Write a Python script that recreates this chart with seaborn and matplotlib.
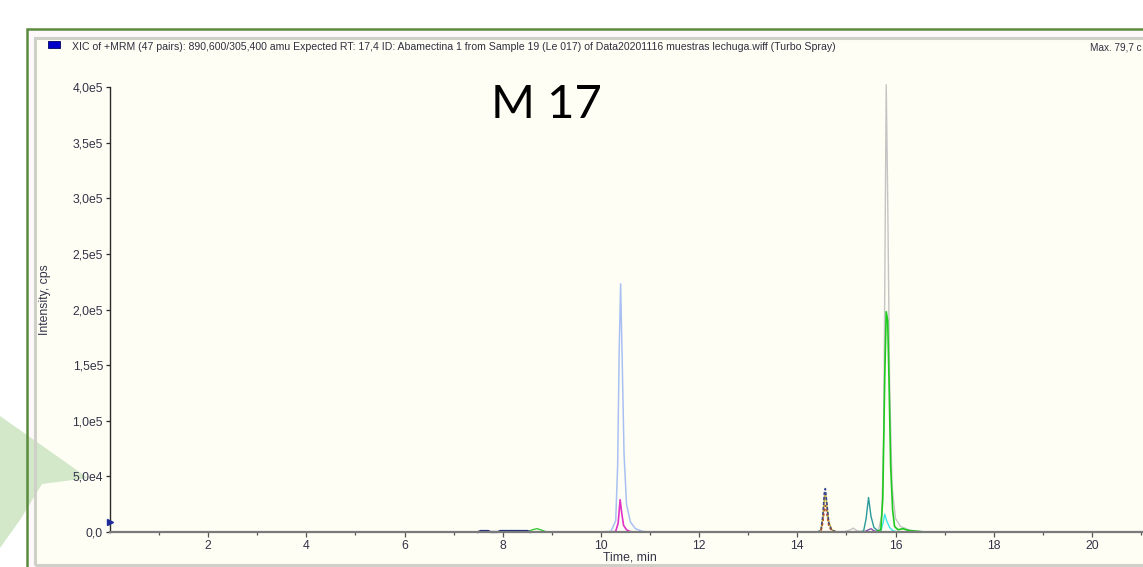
import numpy as np
import pandas as pd
import seaborn as sns
import matplotlib
matplotlib.use("Agg")
import matplotlib.pyplot as plt
from matplotlib.patches import Rectangle, Polygon

# ---------------- data ----------------
t_blue = [9.9, 10.2, 10.3, 10.34, 10.37, 10.40, 10.43, 10.47, 10.52, 10.60, 10.70, 10.85, 11.0]
i_blue = [0, 500, 1.0e4, 6.0e4, 1.6e5, 2.23e5, 1.6e5, 7.0e4, 2.5e4, 9e3, 3e3, 500, 0]

t_magenta = [10.2, 10.3, 10.35, 10.39, 10.42, 10.46, 10.52, 10.60, 10.70]
i_magenta = [0, 500, 8e3, 2.9e4, 1.8e4, 6e3, 2e3, 300, 0]

t_gray = [14.95, 15.08, 15.14, 15.2, 15.3, 15.5, 15.65, 15.72, 15.76, 15.79, 15.81, 15.84, 15.88, 15.93, 16.0, 16.1, 16.3, 16.6]
i_gray = [0, 2e3, 3.5e3, 1.5e3, 0, 0, 1e3, 1.5e4, 9e4, 2.8e5, 4.02e5, 3.0e5, 1.3e5, 4e4, 1.2e4, 5e3, 1.5e3, 0]

t_green = [15.6, 15.7, 15.74, 15.78, 15.81, 15.84, 15.87, 15.90, 15.94, 15.98, 16.05, 16.15, 16.25, 16.4, 16.6]
i_green = [0, 2e3, 3e4, 1.4e5, 1.98e5, 1.9e5, 1.3e5, 6e4, 2e4, 5e3, 2e3, 3e3, 1.5e3, 800, 0]

t_cyan = [15.6, 15.7, 15.75, 15.78, 15.82, 15.88, 15.95, 16.05]
i_cyan = [0, 500, 9e3, 1.6e4, 1.0e4, 4e3, 1e3, 0]

t_teal = [15.25, 15.35, 15.40, 15.45, 15.50, 15.56, 15.65, 15.75]
i_teal = [0, 1e3, 1.2e4, 3.1e4, 1.4e4, 4e3, 800, 0]

t_purple = [15.35, 15.45, 15.5, 15.56, 15.65]
i_purple = [0, 2e3, 3e3, 1e3, 0]

t_14 = [14.40, 14.48, 14.52, 14.55, 14.57, 14.60, 14.64, 14.70, 14.80]
i_navy = [0, 1e3, 1.5e4, 3.5e4, 3.9e4, 2.6e4, 8e3, 1.5e3, 0]
i_yellow = [0, 1e3, 1.3e4, 3.0e4, 3.4e4, 2.4e4, 9e3, 2e3, 0]
i_brown = [0, 500, 8e3, 2.0e4, 2.4e4, 1.6e4, 5e3, 1e3, 0]

t_green_small = [8.5, 8.6, 8.7, 8.8, 8.9]
i_green_small = [0, 2e3, 3e3, 1.5e3, 0]

t_navy_base = [7.5, 7.55, 7.7, 7.75, 7.9, 7.95, 8.5, 8.55]
i_navy_base = [0, 900, 900, 0, 0, 900, 900, 0]

y_ticks = [0, 5e4, 1e5, 1.5e5, 2e5, 2.5e5, 3e5, 3.5e5, 4e5]
y_labels = ["0,0", "5,0e4", "1,0e5", "1,5e5", "2,0e5", "2,5e5", "3,0e5", "3,5e5", "4,0e5"]
x_major = [2, 4, 6, 8, 10, 12, 14, 16, 18, 20]
x_minor = [1, 3, 5, 7, 9, 11, 13, 15, 17, 19, 21]

title_text = ("XIC of +MRM (47 pairs): 890,600/305,400 amu Expected RT: 17,4 ID: Abamectina 1 "
              "from Sample 19 (Le 017) of Data20201116 muestras lechuga.wiff (Turbo Spray)")
max_text = "Max. 79,7 c"

# ---------------- figure ----------------
W, H = 1143, 567
fig = plt.figure(figsize=(W / 100, H / 100), dpi=100)
fig.patch.set_facecolor("white")

def fx(x):
    return x / W

def fy(y):
    return 1 - y / H

# panel fills (below the pale green shape)
fig.add_artist(Rectangle((fx(28), fy(600)), fx(1200), fy(30) - fy(600),
                         transform=fig.transFigure, facecolor="#fdf9fb",
                         edgecolor="none", zorder=0.2))
fig.add_artist(Rectangle((fx(34.5), fy(565)), fx(1200), fy(38) - fy(565),
                         transform=fig.transFigure, facecolor="#fefef5",
                         edgecolor="none", zorder=0.3))
# pale green pointer shape
fig.add_artist(Polygon([(fx(0), fy(416)), (fx(88), fy(478)), (fx(42), fy(484)),
                        (fx(20), fy(520)), (fx(0), fy(548))],
                       closed=True, transform=fig.transFigure,
                       facecolor="#d3e7c9", edgecolor="none", zorder=0.5))
# frame lines
fig.add_artist(Rectangle((fx(27), fy(600)), fx(1200), fy(29) - fy(600),
                         transform=fig.transFigure, facecolor="none",
                         edgecolor="#5b8b3c", lw=1.8, zorder=1))
fig.add_artist(Rectangle((fx(34.5), fy(565)), fx(1200), fy(38) - fy(565),
                         transform=fig.transFigure, facecolor="none",
                         edgecolor="#cfd0c8", lw=2.2, zorder=1))

# blue legend square + header texts
fig.add_artist(Rectangle((fx(48), fy(48)), fx(12), fy(41) - fy(48),
                         transform=fig.transFigure, facecolor="#0000c8",
                         edgecolor="#000060", lw=0.6, zorder=3))
fig.text(fx(72), fy(47), title_text, fontsize=7.6, family="Liberation Sans",
         color="#303040", va="center", ha="left", zorder=3)
fig.text(fx(1090), fy(47), max_text, fontsize=7.2, family="Liberation Sans",
         color="#303040", va="center", ha="left", zorder=3)

# axes
ax = fig.add_axes([fx(110), fy(532), 1 - fx(110), fy(87) - fy(532)])
ax.set_facecolor("none")
ax.set_zorder(2)

series = [
    (t_green_small, i_green_small, "#3cc83c", "-", 1.0),
    (t_navy_base, i_navy_base, "#1c2a78", "-", 1.6),
    (t_blue, i_blue, "#a9c1f2", "-", 1.1),
    (t_magenta, i_magenta, "#e032c8", "-", 1.2),
    (t_gray, i_gray, "#c4c4c4", "-", 1.0),
    (t_purple, i_purple, "#8040a0", "-", 0.9),
    (t_teal, i_teal, "#2a9a9a", "-", 1.0),
    (t_cyan, i_cyan, "#3ce6e6", "-", 1.0),
    (t_green, i_green, "#1ec81e", "-", 1.2),
    (t_14, i_yellow, "#d4bc2c", "-", 1.1),
    (t_14, i_navy, "#3c4a90", (0, (2, 1)), 1.2),
    (t_14, i_brown, "#b0502a", (0, (2, 1.5)), 1.0),
]
for t, i, c, ls, lw in series:
    df = pd.DataFrame({"time": t, "intensity": i})
    sns.lineplot(data=df, x="time", y="intensity", ax=ax, color=c,
                 linestyle=ls, lw=lw, sort=False, estimator=None,
                 clip_on=False, legend=False)

ax.set_xlim(0, 21.04)
ax.set_ylim(0, 4.0e5)
ax.set_xlabel("")
ax.set_ylabel("")

for s in ["top", "right"]:
    ax.spines[s].set_visible(False)
ax.spines["left"].set_color("#2a2a2a")
ax.spines["left"].set_linewidth(1.0)
ax.spines["bottom"].set_color("#7a7a7a")
ax.spines["bottom"].set_linewidth(1.6)

ax.set_yticks(y_ticks)
ax.set_yticklabels(y_labels)
ax.set_xticks(x_major)
ax.set_xticklabels([str(v) for v in x_major])
ax.set_xticks(x_minor, minor=True)
ax.tick_params(axis="y", direction="out", length=3, width=0.9, pad=2,
               labelsize=8.8, labelcolor="#333348", color="#2a2a2a")
ax.tick_params(axis="x", which="major", direction="out", length=3.5, width=0.9,
               pad=2, labelsize=8.8, labelcolor="#333348", color="#555555")
ax.tick_params(axis="x", which="minor", direction="out", length=2.5, width=0.9,
               color="#555555")
for lab in ax.get_xticklabels() + ax.get_yticklabels():
    lab.set_family("Liberation Sans")

# small navy marker on y axis
ax.plot([0], [9e3], marker=">", color="#1c2a9a", markersize=5, clip_on=False,
        zorder=5)

# axis titles
fig.text(fx(630), fy(558), "Time, min", fontsize=8.8, family="Liberation Sans",
         color="#333348", ha="center", va="center")
fig.text(fx(45), fy(300), "Intensity, cps", fontsize=8.8, family="Liberation Sans",
         color="#333348", ha="center", va="center", rotation=90)

# big annotation
fig.text(fx(546), fy(105), "M 17", fontsize=34, family="Lato", color="black",
         ha="center", va="center")

fig.savefig("out.png", dpi=100, facecolor="white")
